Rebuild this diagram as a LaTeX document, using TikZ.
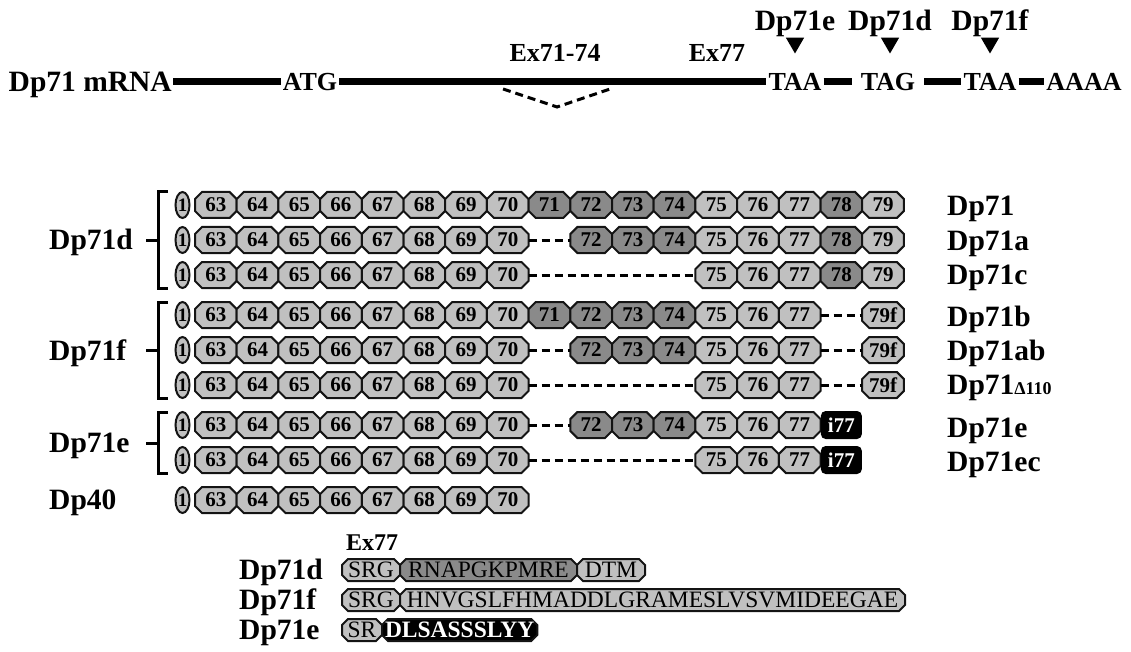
\documentclass[tikz,border=0pt]{standalone}
\usepackage{fontspec}
\setmainfont{Liberation Serif}
\usetikzlibrary{positioning,shapes.misc,shapes.geometric}
\definecolor{exLite}{HTML}{C0C0C0}
\definecolor{exDark}{HTML}{8A8A8A}
\definecolor{exEdge}{HTML}{141414}

% exons 1 and 63-70, shared by every isoform
\newcommand{\exbase}[2]{%
  \node[capoval] (#1-1) at (182.5,#2) {1};
  \foreach \n in {63,...,70}
    \node[exlite] (#1-\n) at ({195+41.7*(\n-62.5)},#2) {\n};%
}
% extra exons: slot/style/text
\newcommand{\exadd}[3]{%
  \foreach \n/\sty/\txt in {#3}
    \node[\sty] (#1-\n) at ({195+41.7*(\n-62.5)},#2) {\txt};%
}

\begin{document}
\begin{tikzpicture}[x=1pt,y=-1pt,
    lbl/.style={font=\fontsize{29.5}{31}\selectfont\bfseries,inner sep=1pt,
                text height=19.5pt,text depth=0pt},
    codon/.style={font=\fontsize{26}{28}\selectfont\bfseries,inner sep=2pt,
                  text height=17.2pt,text depth=0pt},
    exlbl/.style={font=\fontsize{26}{28}\selectfont\bfseries,inner sep=1pt,
                  text height=17.2pt,text depth=0pt},
    rna/.style={line width=7pt},
    stopmark/.style={regular polygon,regular polygon sides=3,shape border rotate=180,
                     fill=black,minimum size=21pt,inner sep=0pt},
    exbox/.style={chamfered rectangle,chamfered rectangle xsep=4pt,draw=exEdge,
                  line width=2pt,minimum width=41.7pt,minimum height=26pt,
                  inner sep=0pt,outer sep=0pt,font=\fontsize{21}{22}\selectfont\bfseries},
    exlite/.style={exbox,fill=exLite},
    exdark/.style={exbox,fill=exDark},
    exi/.style={rectangle,rounded corners=4pt,draw=black,fill=black,text=white,
                line width=2pt,minimum width=39pt,minimum height=26pt,inner sep=0pt,
                font=\fontsize{21}{22}\selectfont\bfseries},
    capoval/.style={ellipse,draw=exEdge,line width=2pt,fill=exLite,
                    minimum width=14pt,minimum height=26pt,inner sep=0pt,
                    font=\fontsize{19}{20}\selectfont\bfseries},
    pbox/.style={chamfered rectangle,chamfered rectangle xsep=3pt,draw=exEdge,
                 line width=2pt,minimum height=22pt,inner sep=0pt,outer sep=0pt,
                 font=\fontsize{23.5}{24}\selectfont,text height=15.5pt,text depth=0pt},
    skip/.style={line width=3pt,dash pattern=on 8pt off 5pt},
    brk/.style={line width=3pt}]
  \useasboundingbox (0,0) rectangle (1131,652);

  % mRNA
  \node[lbl,anchor=east] (mrna) at (173,82) {Dp71 mRNA};
  \node[codon] (atg) at (310,82) {ATG};
  \node[codon] (taae) at (795,82) {TAA};
  \node[codon,inner xsep=9pt] (tagd) at (888,82) {TAG};
  \node[codon] (taaf) at (990,82) {TAA};
  \node[codon] (polya) at (1084,82) {AAAA};
  \draw[rna] (mrna) -- (atg);
  \draw[rna] (atg) -- (taae);
  \draw[rna] (taae) -- (tagd);
  \draw[rna] (tagd) -- (taaf);
  \draw[rna] (taaf) -- (polya);
  \node[exlbl] (ex7174) at (555,53) {Ex71-74};
  \node[exlbl] (ex77) at (717,53) {Ex77};
  \draw[line width=3pt,dash pattern=on 8pt off 5pt] (503,89) -- (557,107) -- (610,89);
  \node[stopmark] (me) at (795,43) {};
  \node[stopmark] (md) at (890,43) {};
  \node[stopmark] (mf) at (990,43) {};
  \node[lbl,above=6pt of me] (se) {Dp71e};
  \node[lbl,above=6pt of md] (sd) {Dp71d};
  \node[lbl,above=6pt of mf] (sf) {Dp71f};

  % Dp71d group
  \exbase{p71}{205}
  \exadd{p71}{205}{71/exdark/71,72/exdark/72,73/exdark/73,74/exdark/74,75/exlite/75,
                   76/exlite/76,77/exlite/77,78/exdark/78,79/exlite/79}
  \exbase{p71a}{240}
  \exadd{p71a}{240}{72/exdark/72,73/exdark/73,74/exdark/74,75/exlite/75,
                    76/exlite/76,77/exlite/77,78/exdark/78,79/exlite/79}
  \draw[skip] (p71a-70.east) -- (p71a-72.west);
  \exbase{p71c}{275}
  \exadd{p71c}{275}{75/exlite/75,76/exlite/76,77/exlite/77,78/exdark/78,79/exlite/79}
  \draw[skip] (p71c-70.east) -- (p71c-75.west);

  % Dp71f group
  \exbase{p71b}{315}
  \exadd{p71b}{315}{71/exdark/71,72/exdark/72,73/exdark/73,74/exdark/74,75/exlite/75,
                    76/exlite/76,77/exlite/77,79/exlite/79f}
  \draw[skip] (p71b-77.east) -- (p71b-79.west);
  \exbase{p71ab}{350}
  \exadd{p71ab}{350}{72/exdark/72,73/exdark/73,74/exdark/74,75/exlite/75,
                     76/exlite/76,77/exlite/77,79/exlite/79f}
  \draw[skip] (p71ab-70.east) -- (p71ab-72.west);
  \draw[skip] (p71ab-77.east) -- (p71ab-79.west);
  \exbase{p71del}{385}
  \exadd{p71del}{385}{75/exlite/75,76/exlite/76,77/exlite/77,79/exlite/79f}
  \draw[skip] (p71del-70.east) -- (p71del-75.west);
  \draw[skip] (p71del-77.east) -- (p71del-79.west);

  % Dp71e group
  \exbase{p71e}{425}
  \exadd{p71e}{425}{72/exdark/72,73/exdark/73,74/exdark/74,75/exlite/75,
                    76/exlite/76,77/exlite/77,78/exi/i77}
  \draw[skip] (p71e-70.east) -- (p71e-72.west);
  \exbase{p71ec}{460}
  \exadd{p71ec}{460}{75/exlite/75,76/exlite/76,77/exlite/77,78/exi/i77}
  \draw[skip] (p71ec-70.east) -- (p71ec-75.west);

  \exbase{p40}{500}

  % brackets and group names
  \draw[brk] (168,192) -- (158,192) -- (158,288) -- (168,288) (158,240) -- (146,240);
  \draw[brk] (168,302) -- (158,302) -- (158,398) -- (168,398) (158,350) -- (146,350);
  \draw[brk] (168,412) -- (158,412) -- (158,473) -- (168,473) (158,443) -- (146,443);
  \node[lbl,anchor=west] (gd) at (48,240) {Dp71d};
  \node[lbl,anchor=west] (gf) at (48,351) {Dp71f};
  \node[lbl,anchor=west] (ge) at (48,443) {Dp71e};
  \node[lbl,anchor=west] (g40) at (48,500) {Dp40};

  % isoform names
  \node[lbl,anchor=west] (n71) at (946,206) {Dp71};
  \node[lbl,anchor=west] (n71a) at (946,241) {Dp71a};
  \node[lbl,anchor=west] (n71c) at (946,275) {Dp71c};
  \node[lbl,anchor=west] (n71b) at (946,317) {Dp71b};
  \node[lbl,anchor=west] (n71ab) at (946,351) {Dp71ab};
  \node[lbl,anchor=west] (n71del) at (946,385)
    {Dp71{\fontsize{18}{20}\selectfont Δ110}};
  \node[lbl,anchor=west] (n71e) at (946,428) {Dp71e};
  \node[lbl,anchor=west] (n71ec) at (946,462) {Dp71ec};

  % C-terminal peptides
  \node[lbl,anchor=west] (qd) at (238,570) {Dp71d};
  \node[lbl,anchor=west] (qf) at (238,600) {Dp71f};
  \node[lbl,anchor=west] (qe) at (238,630) {Dp71e};
  \node[pbox,fill=exLite,minimum width=58pt,anchor=west] (qd-a) at (342,570) {SRG};
  \node[pbox,fill=exDark,minimum width=177pt,right=0pt of qd-a] (qd-b) {RNAPGKPMRE};
  \node[pbox,fill=exLite,minimum width=68pt,right=0pt of qd-b] (qd-c) {DTM};
  \node[pbox,fill=exLite,minimum width=58pt,anchor=west] (qf-a) at (342,600) {SRG};
  \node[pbox,fill=exLite,minimum width=505pt,right=0pt of qf-a] (qf-b)
    {HNVGSLFHMADDLGRAMESLVSVMIDEEGAE};
  \node[pbox,fill=exLite,minimum width=40pt,anchor=west] (qe-a) at (342,630) {SR};
  \node[pbox,fill=black,text=white,font=\fontsize{23.5}{24}\selectfont\bfseries,
        minimum width=153pt,right=0pt of qe-a] (qe-b) {DLSASSSLYY};
  \node[exlbl,font=\fontsize{24}{26}\selectfont\bfseries,text height=15.8pt]
    (ex77b) at (372,543) {Ex77};
\end{tikzpicture}
\end{document}
